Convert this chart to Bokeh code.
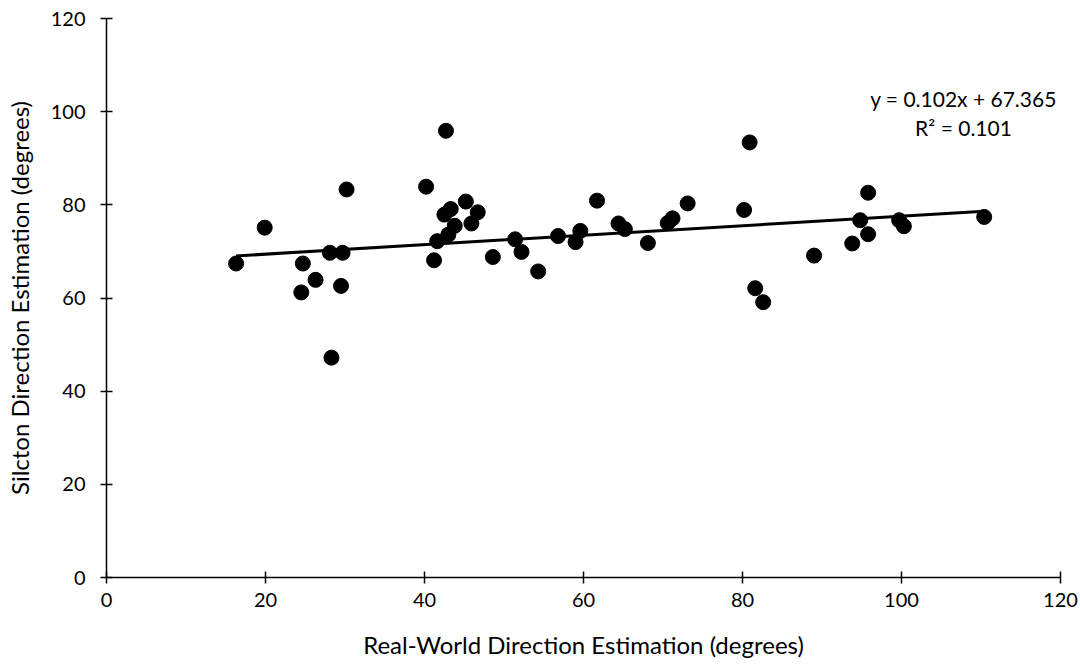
from bokeh.plotting import figure
from bokeh.models import Range1d, Label, FixedTicker
from bokeh.embed import file_html
from bokeh.resources import INLINE

real_world = [16.3, 19.9, 24.7, 24.5, 26.3, 28.3, 28.1, 29.7, 29.5, 30.2,
              40.2, 42.7, 41.2, 41.6, 42.5, 43.3, 43.8, 43.0, 45.2, 46.7,
              45.9, 48.6, 51.4, 52.2, 54.3, 56.8, 59.6, 59.0, 61.7, 64.4,
              65.2, 68.1, 70.6, 71.2, 73.1, 80.9, 80.2, 81.6, 82.6, 89.0,
              93.8, 95.8, 94.8, 95.8, 99.7, 100.3, 110.4]
silcton = [67.4, 75.1, 67.4, 61.2, 63.9, 47.2, 69.7, 69.7, 62.6, 83.3,
           83.9, 95.9, 68.1, 72.2, 77.9, 79.1, 75.5, 73.6, 80.7, 78.4,
           76.0, 68.8, 72.6, 69.9, 65.7, 73.3, 74.4, 72.0, 80.9, 76.0,
           74.8, 71.8, 76.1, 77.1, 80.3, 93.4, 78.9, 62.1, 59.1, 69.1,
           71.7, 82.6, 76.7, 73.7, 76.7, 75.4, 77.4]
slope = 0.102
intercept = 67.365
r_squared = 0.101
ticks = [0, 20, 40, 60, 80, 100, 120]

FONT = "Lato"

p = figure(width=1080, height=666, output_backend="svg", toolbar_location=None,
           x_range=Range1d(0, 120), y_range=Range1d(0, 120),
           min_border_left=106, min_border_right=20, min_border_top=18,
           min_border_bottom=89)
p.outline_line_color = None
p.xgrid.grid_line_color = None
p.ygrid.grid_line_color = None
p.background_fill_color = "white"
p.border_fill_color = "white"

for ax in (p.xaxis[0], p.yaxis[0]):
    ax.ticker = FixedTicker(ticks=ticks)
    ax.minor_tick_line_color = None
    ax.major_tick_in = 6
    ax.major_tick_out = 6
    ax.axis_line_color = "black"
    ax.axis_line_width = 1.5
    ax.major_tick_line_color = "black"
    ax.major_tick_line_width = 1.5
    ax.major_label_text_font = FONT
    ax.major_label_text_font_size = "20px"
    ax.major_label_text_color = "black"
    ax.axis_label_text_font = FONT
    ax.axis_label_text_font_size = "24px"
    ax.axis_label_text_font_style = "normal"
    ax.axis_label_text_color = "black"

p.xaxis.axis_label = "Real-World Direction Estimation (degrees)"
p.yaxis.axis_label = "Silcton Direction Estimation (degrees)"
p.xaxis.major_label_standoff = 9
p.yaxis.major_label_standoff = 15
p.xaxis.axis_label_standoff = 20
p.yaxis.axis_label_standoff = 14

x0, x1 = min(real_world), max(real_world)
p.line([x0, x1], [slope * x0 + intercept, slope * x1 + intercept],
       line_color="black", line_width=3)
p.scatter(real_world, silcton, size=15, fill_color="black", line_color="black")

eq = Label(x=107.8, y=102.8, text=f"y = {slope:.3f}x + {intercept:.3f}",
           text_align="center", text_baseline="middle",
           text_font=FONT, text_font_size="21px", text_color="black")
r2 = Label(x=107.8, y=96.6, text=f"R² = {r_squared:.3f}",
           text_align="center", text_baseline="middle",
           text_font=FONT, text_font_size="21px", text_color="black")
p.add_layout(eq)
p.add_layout(r2)

open("out.html", "w").write(file_html(p, INLINE))
